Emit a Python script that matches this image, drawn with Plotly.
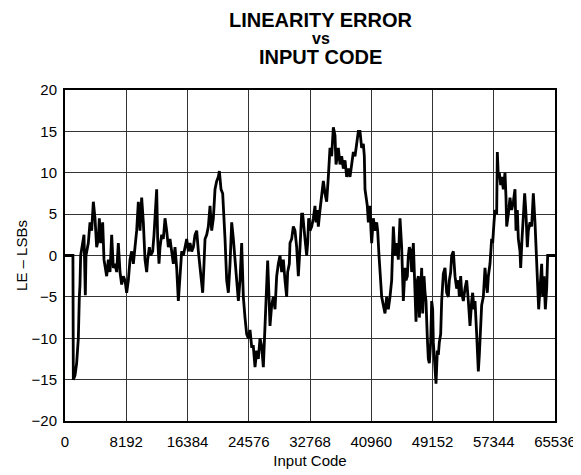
import plotly.graph_objects as go

# Linearity error vs input code
input_code = [
    0, 1060, 1114, 1337, 1560, 1783, 1917, 2006, 2095, 2273, 2541, 2719, 2808,
    3120, 3343, 3566, 3789, 4012, 4235, 4458, 4592, 4770, 5038, 5216, 5350,
    5573, 5796, 6019, 6242, 6464, 6687, 6910, 7133, 7356, 7579, 7802, 8025,
    8248, 8471, 8694, 8917, 9140, 9363, 9586, 9809, 10032, 10255, 10478,
    10701, 10924, 11058, 11280, 11459, 11726, 11905, 12039, 12261, 12395,
    12574, 12707, 12930, 13153, 13376, 13599, 13822, 14045, 14268, 14491,
    14714, 14937, 15160, 15383, 15606, 15829, 16052, 16275, 16498, 16721,
    16944, 17167, 17390, 17613, 17836, 18059, 18282, 18415, 18594, 18728,
    18951, 19173, 19396, 19619, 19842, 20065, 20288, 20511, 20645, 20868,
    21091, 21269, 21403, 21626, 21849, 22072, 22295, 22518, 22741, 22964,
    23187, 23410,
    23629, 23852, 24075, 24298, 24521, 24744, 24967, 25190, 25413, 25635,
    25858, 26081, 26304, 26527, 26661, 26839, 26973, 27107, 27285, 27419,
    27642, 27865, 28088, 28311, 28534, 28757, 28979, 29202, 29425, 29648,
    29782, 30005, 30093, 30316, 30539, 30762, 30985, 31208, 31431, 31654,
    31788, 31966, 32100, 32323, 32457, 32590, 32769, 32992, 33214, 33437,
    33571, 33749, 33883, 34106, 34329, 34552, 34775, 34998, 35220, 35443,
    35666, 35889, 36112, 36246, 36424, 36558, 36781, 37004, 37227, 37450,
    37672, 37895, 38118, 38341, 38564, 38787, 39010, 39233, 39456, 39678,
    39901, 40035, 40124, 40258, 40436, 40570, 40793, 40927, 41016, 41239,
    41462, 41685, 41818, 41997, 42130, 42353, 42576, 42799, 43022, 43245,
    43468, 43691, 43914, 44137, 44359, 44582,
    44806, 45029, 45252, 45475, 45608, 45787, 45921, 46054, 46233, 46366,
    46589, 46812, 46946, 47124, 47258, 47392, 47570, 47704, 47837, 48016,
    48150, 48283, 48462, 48595, 48729, 48907, 49041, 49175, 49264, 49487,
    49621, 49799, 49933, 50066, 50245, 50379, 50512, 50601, 50824, 51047,
    51270, 51404, 51582, 51716, 51939, 52162, 52385, 52608, 52741, 52920,
    53053, 53276, 53499, 53722, 53945, 54168, 54391, 54524, 54703, 54837,
    55059, 55282, 55416, 55594, 55728, 55951, 56174, 56308, 56486, 56620,
    56843, 57066, 57199, 57378, 57511, 57734, 57823, 57957, 58091, 58269,
    58403, 58626, 58848, 58982, 59072, 59294, 59517, 59740, 59963, 60186,
    60320, 60498, 60632, 60855, 60944, 61122, 61301, 61479, 61657, 61836,
    61969, 62192, 62415, 62638, 62861, 63084, 63218, 63351, 63530, 63753,
    63886, 64065, 64243, 64421, 64555, 64778, 65536,
]

le_lsb = [
    0, 0, -15, -14.5, -13, -10, -5, -3.5, 0, 1, 2.5, -4.8, 0,
    1.5, 4, 3, 6.5, 4.5, 1, 2, 4.5, 1.5, 4, -0.5, -1.5,
    -2.5, -0.5, -2, 2.5, -1.5, -1, -2, 1.5, -2, -3.5, -2.5, -3,
    -4.5, -3, -0.5, 0.5, -1, 1, 3, 6.5, 3, 7, 4,
    -0.5, -2, -0.5, 1, 0, 0.5, 2.5, 4.5, 8, 2,
    -1, 1, 2.5, 2, 4.5, 3, 1, 2, 0.5, -1,
    1, -1.5, -5.5, -3, 0.5, 0, 1, 2, 0.5, 1.5,
    0.5, 1, 2.5, 3, 0.5, -1.5, -3, -4.5, -1, 2,
    2.5, 3.5, 6, 3, 4.5, 8, 9, 9.5, 10.2, 8,
    7.5, 5, 2, -3, -4.5, -1, 4, 2, -1, -3,
    -5.5, -3,
    1.5, -5, -7.5, -9.5, -10, -9, -11, -11, -13.5, -11.5,
    -12.5, -10, -11, -13.5, -10.5, -6, -2.5, -0.6, -5, -8.5,
    -6, -5, -6.5, -2.5, -1, 0, -2, -0.5, -3, -5,
    -2, -1, 1.5, 2, 3.5, 3, 1, -2.5, 1, 5,
    5, 2.5, 2, 0, 1.5, 4.5, 3, 3.5, 4.5, 6,
    4, 5.5, 3.5, 5.5, 7.5, 9, 7.5, 6.5, 9.5, 13,
    12, 15.5, 14.5, 11, 12, 13, 11, 12, 10.5, 11.5,
    9.5, 10.5, 9.5, 11, 12.5, 12, 13.5, 15, 15, 13,
    13.5, 12, 8, 7, 6, 4, 6, 3, 1.5, 4.5,
    3, 4, 3, 0, -2.5, -5, -6, -7, -5, -6.5,
    -5, -3, 3.5, 0, 1.5, -0.5,
    4.5, 1, -5.5, -1.5, -3, -2.5, 0, 1, 0.5, -2,
    1.5, -5.5, -8, -3, -2.5, -7.5, -3, -1.5, -7, -2.5,
    -4.5, -5.5, -10, -12.5, -13, -10.5, -5.5, -6.5, -10.5, -13,
    -15.5, -11.5, -12, -10.5, -9.5, -5.5, -3.5, -2.2, -1.5, -4.5,
    -5, -3, -2, 0, 0.5, -2.5, -4, -3, -5, -2.5,
    -4.5, -5.5, -4, -3, -5.5, -8.5, -5.5, -4.5, -6.5, -5.5,
    -9.5, -14, -12, -9, -6, -5, -1.5, -3, -4.5, -2.5,
    -1, 2, 1.5, 4, 5.5, 5, 12.5, 9.5, 10, 8.5,
    9.5, 8, 10, 7, 3.5, 5, 7, 5.5, 6.5, 8,
    3, 5.5, 2, 0.5, -1.5, 2, 5, 7.5, 5, 1,
    3, 4, 3.5, 7.5, 4, 0, -3, -6.5, -4, -1,
    -5, -2.5, -6.5, -4, 0, 0, 0,
]

x_ticks = [0, 8192, 16384, 24576, 32768, 40960, 49152, 57344, 65536]
y_ticks = [-20, -15, -10, -5, 0, 5, 10, 15, 20]

FONT = "Liberation Sans, Arial, sans-serif"

fig = go.Figure()
fig.add_trace(
    go.Scatter(
        x=input_code,
        y=le_lsb,
        mode="lines",
        line=dict(color="black", width=2.8),
        hoverinfo="skip",
    )
)

# three-line title, middle line smaller
title_lines = [
    ("LINEARITY ERROR", 20, 1.211),
    ("vs", 16, 1.157),
    ("INPUT CODE", 20, 1.101),
]
for text, size, ypos in title_lines:
    fig.add_annotation(
        text=f"<b>{text}</b>",
        xref="paper", yref="paper",
        x=0.522, y=ypos,
        xanchor="center", yanchor="middle",
        showarrow=False,
        font=dict(family=FONT, size=size, color="black"),
    )

# the page body adds an 8px offset, so the figure is sized 8px smaller
fig.update_layout(
    width=573,
    height=467,
    margin=dict(l=57, r=26, t=82, b=54),
    plot_bgcolor="white",
    paper_bgcolor="white",
    showlegend=False,
    font=dict(family=FONT, size=15, color="black"),
    xaxis=dict(
        range=[0, 65536],
        tickvals=x_ticks,
        ticktext=[str(v) for v in x_ticks],
        showgrid=True,
        gridcolor="#333333",
        gridwidth=1,
        zeroline=False,
        showline=True,
        mirror=True,
        linecolor="black",
        linewidth=2,
        ticks="",
        ticklabelstandoff=6,
        title=dict(text="Input Code", standoff=6, font=dict(size=15)),
        automargin=False,
    ),
    yaxis=dict(
        range=[-20, 20],
        tickvals=y_ticks,
        showgrid=True,
        gridcolor="#333333",
        gridwidth=1,
        zeroline=False,
        showline=True,
        mirror=True,
        linecolor="black",
        linewidth=2,
        ticks="",
        ticklabelstandoff=3,
        title=dict(text="LE – LSBs", standoff=0, font=dict(size=15)),
        automargin=False,
    ),
)

fig.write_html("out.html")
